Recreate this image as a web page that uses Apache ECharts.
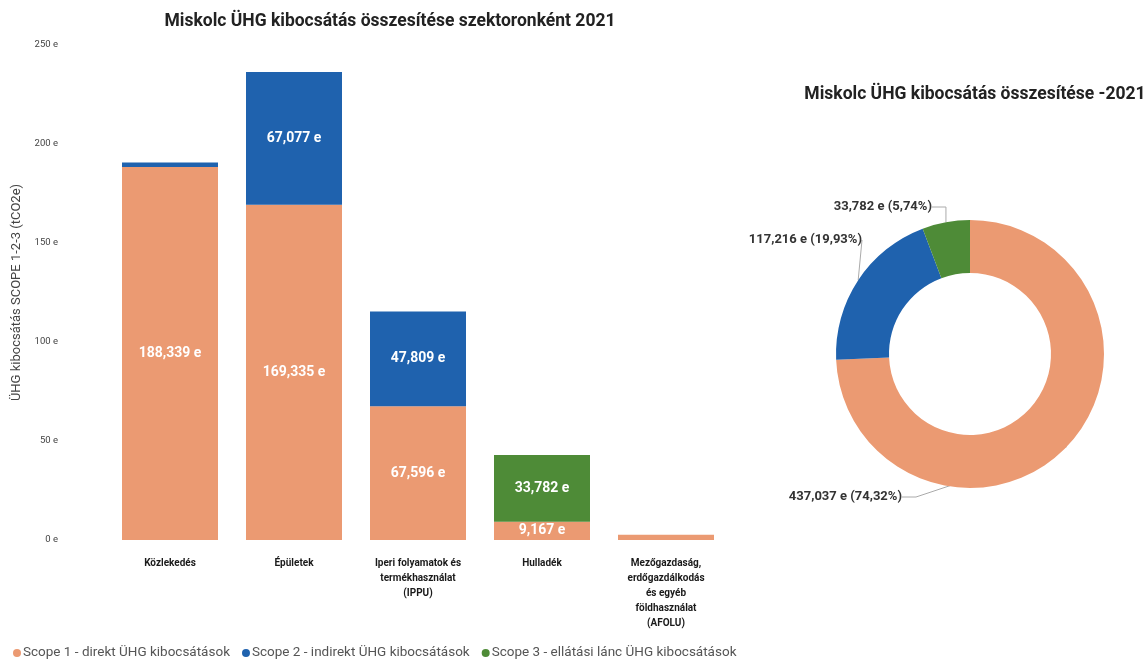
<!DOCTYPE html>
<html>
<head>
<meta charset="utf-8">
<script src="https://cdn.jsdelivr.net/npm/echarts@6/dist/echarts.min.js"></script>
<style>
  html, body { margin: 0; padding: 0; background: #fff; }
  #chart { width: 1148px; height: 665px; }
</style>
</head>
<body>
<div id="chart"></div>
<script>
// Sectors (x axis categories)
const sectors = [
  'Közlekedés',
  'Épületek',
  'Iperi folyamatok és\ntermékhasználat\n(IPPU)',
  'Hulladék',
  'Mezőgazdaság,\nerdőgazdálkodás\nés egyéb\nföldhasználat\n(AFOLU)'
];

// Emissions per sector, thousand tCO2e ("e")
const scope1 = [188.339, 169.335, 67.596, 9.167, 2.600];
const scope2 = [2.330, 67.077, 47.809, 0, 0];
const scope3 = [0, 0, 0, 33.782, 0];

const scopeNames = [
  'Scope 1 - direkt ÜHG kibocsátások',
  'Scope 2 - indirekt ÜHG kibocsátások',
  'Scope 3 - ellátási lánc ÜHG kibocsátások'
];

// Totals for the donut
const totals = [437.037, 117.216, 33.782];

const yTicks = [0, 50, 100, 150, 200, 250];

const colors = ['#EB9A72', '#1F62AE', '#4E8B37'];

const fmtNum = v => v.toFixed(3).replace('.', ',') + ' e';
const grandTotal = totals.reduce((a, b) => a + b, 0);
const fmtPct = v => (v / grandTotal * 100).toFixed(2).replace('.', ',') + '%';

const font = 'Roboto, "Noto Sans", sans-serif';

// Where each donut label sits (right edge, vertical middle)
const pieLabelSpots = [[902, 497], [862, 240], [932, 207]];

function barSeries(name, data, color) {
  return {
    name: name,
    type: 'bar',
    stack: 'total',
    barWidth: 96,
    data: data,
    itemStyle: { color: color },
    label: {
      show: true,
      position: 'inside',
      color: '#fff',
      fontFamily: font,
      fontWeight: 'bold',
      fontSize: 14,
      formatter: p => (p.value >= 5 ? fmtNum(p.value) : '')
    },
    emphasis: { disabled: true }
  };
}

const chart = echarts.init(document.getElementById('chart'));
chart.setOption({
  animation: false,
  color: colors,
  textStyle: { fontFamily: font },
  title: [
    {
      text: 'Miskolc ÜHG kibocsátás összesítése szektoronként 2021',
      left: 385, top: 8, textAlign: 'center',
      textStyle: { fontSize: 17.5, fontWeight: 'bold', color: '#222', fontFamily: font }
    },
    {
      text: 'Miskolc ÜHG kibocsátás összesítése -2021',
      left: 970, top: 81, textAlign: 'center',
      textStyle: { fontSize: 17.5, fontWeight: 'bold', color: '#222', fontFamily: font }
    }
  ],
  legend: {
    left: 8, bottom: 0,
    itemWidth: 8, itemHeight: 8, itemGap: 12,
    icon: 'circle',
    data: scopeNames,
    textStyle: { fontSize: 13.5, color: '#555', fontFamily: font, padding: [0, 0, 0, -3] }
  },
  grid: { left: 108, top: 45, width: 620, height: 495 },
  xAxis: {
    type: 'category',
    data: sectors,
    axisLine: { show: false },
    axisTick: { show: false },
    axisLabel: {
      interval: 0, margin: 16,
      fontSize: 10, fontWeight: 'bold', color: '#1a1a1a', lineHeight: 15, fontFamily: font
    }
  },
  yAxis: {
    type: 'value',
    min: yTicks[0], max: yTicks[yTicks.length - 1], interval: 50,
    name: 'ÜHG kibocsátás SCOPE 1-2-3 (tCO2e)',
    nameLocation: 'middle', nameGap: 83,
    nameTextStyle: { fontSize: 13, color: '#444', fontFamily: font },
    splitLine: { show: false },
    axisLine: { show: false },
    axisTick: { show: false },
    axisLabel: { margin: 50, fontSize: 9.5, color: '#444', formatter: v => v + ' e' }
  },
  series: [
    barSeries(scopeNames[0], scope1, colors[0]),
    barSeries(scopeNames[1], scope2, colors[1]),
    barSeries(scopeNames[2], scope3, colors[2]),
    {
      type: 'pie',
      center: [970, 354],
      radius: [81, 134],
      startAngle: 90,
      clockwise: true,
      legendHoverLink: false,
      emphasis: { disabled: true },
      data: totals.map((v, i) => ({ name: scopeNames[i], value: v, itemStyle: { color: colors[i] } })),
      label: {
        show: true,
        width: 170,
        overflow: 'none',
        fontSize: 13, fontWeight: 'bold', color: '#333', fontFamily: font,
        formatter: p => fmtNum(p.value) + ' (' + fmtPct(p.value) + ')'
      },
      labelLine: { show: true, length: 12, length2: 14, lineStyle: { color: '#aaa', width: 1 } },
      labelLayout: p => ({
        x: pieLabelSpots[p.dataIndex][0],
        y: pieLabelSpots[p.dataIndex][1],
        align: 'right',
        verticalAlign: 'middle'
      })
    }
  ]
});
</script>
</body>
</html>
